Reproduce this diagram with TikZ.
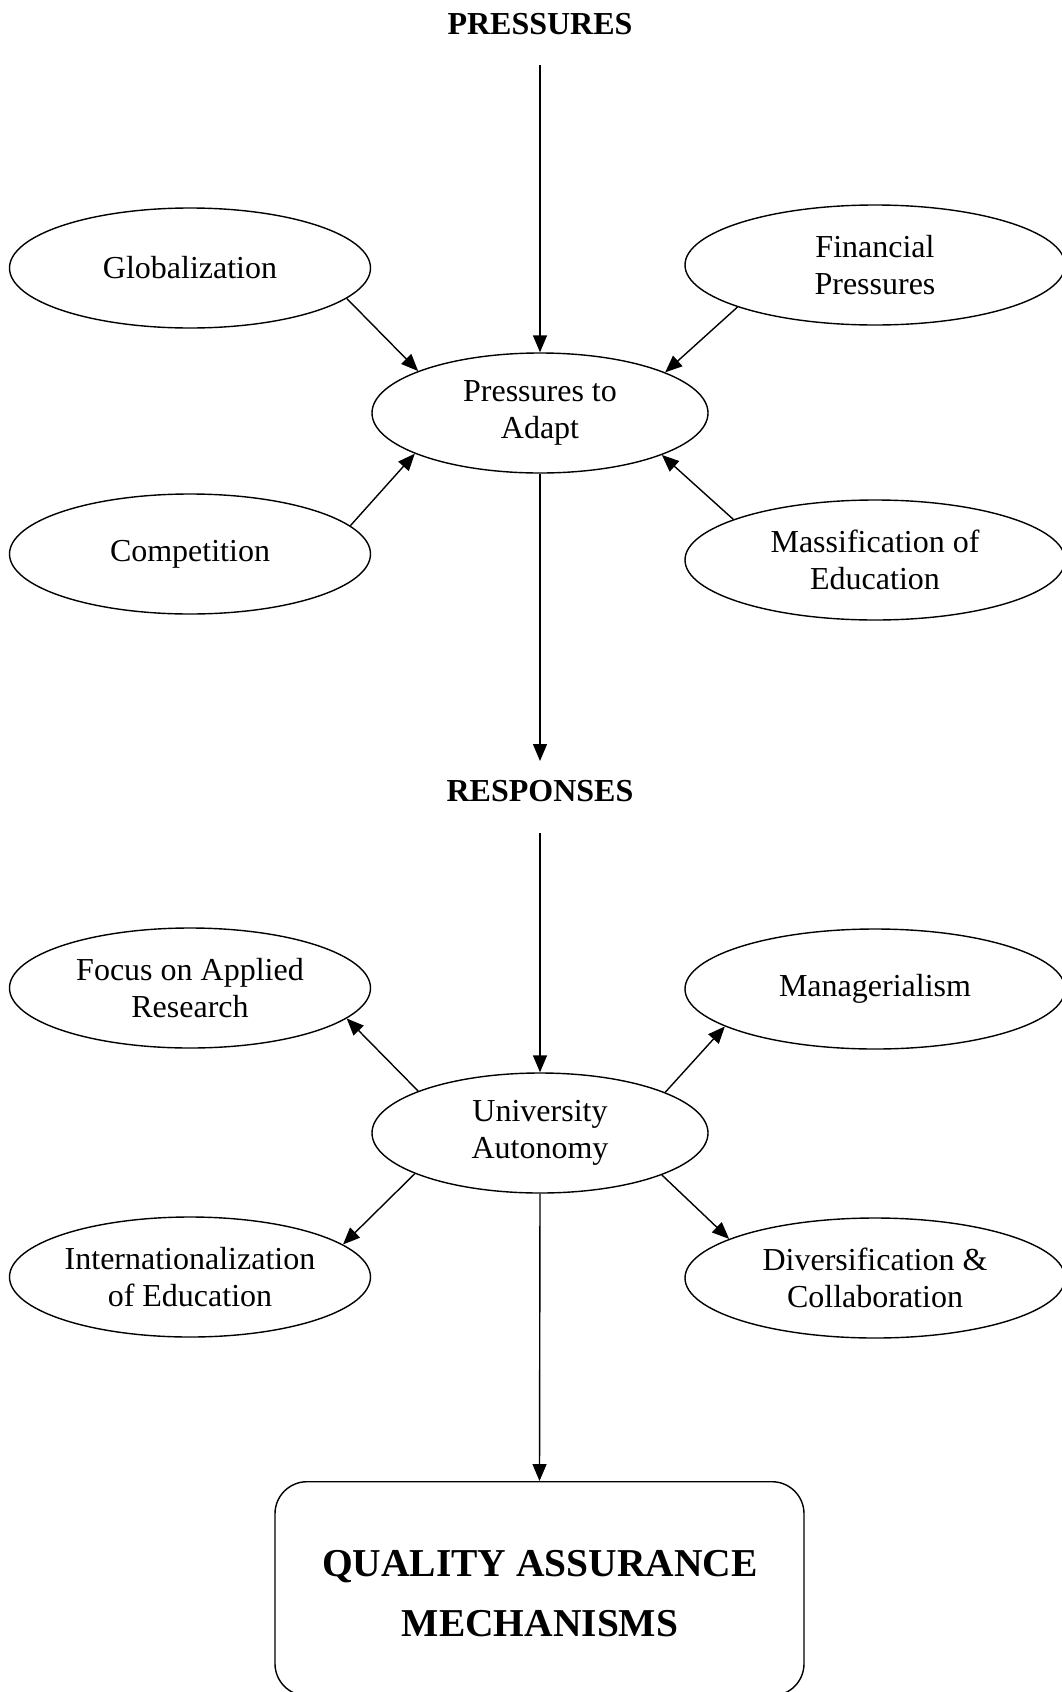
\documentclass[tikz,border=0pt]{standalone}
\usepackage{fontspec}
\setmainfont{Liberation Serif}
\usetikzlibrary{shapes.geometric,arrows.meta}
\begin{document}
\begin{tikzpicture}[x=1pt,y=-1pt,
  oval/.style={draw, ellipse, line width=1.4pt, inner sep=0pt, minimum height=120pt, align=center, font=\fontsize{32}{36.8}\selectfont},
  lft/.style={oval, minimum width=361pt},
  rgt/.style={oval, minimum width=380pt},
  mid/.style={oval, minimum width=336pt},
  heading/.style={font=\fontsize{32}{36.8}\selectfont\bfseries, inner sep=0pt},
  qabox/.style={draw, line width=1.4pt, rounded corners=32pt, minimum width=529pt, minimum height=214pt, inner sep=0pt},
  qatext/.style={align=center, font=\fontsize{39.5}{60}\selectfont\bfseries, inner sep=0pt},
  arr/.style={line width=1.4pt, -{Triangle[length=17pt,width=14pt]}}]
\useasboundingbox (0,0) rectangle (1062,1692);

% top half
\node[heading] (head1) at (540,24) {PRESSURES};
\coordinate (p0) at (540,65);
\node[mid] (pta) at (540,413) {Pressures to\\Adapt};
\node[lft] (glob) at (190,268) {Globalization};
\node[rgt] (fin) at (875,265) {Financial\\Pressures};
\node[lft] (comp) at (190,554) {Competition};
\node[rgt] (mass) at (875,560) {Massification of\\Education};
\coordinate (r1) at (540,761);

\draw[arr] (p0) -- (pta.north);
\draw[arr] (glob.-11.5) -- (pta.161.4);
\draw[arr] (fin.-163.8) -- (pta.18.2);
\draw[arr] (comp.10.6) -- (pta.-162.4);
\draw[arr] (mass.164.9) -- (pta.-19);
\draw[arr] (pta.south) -- (r1);

% bottom half
\node[heading] (head2) at (540,791) {RESPONSES};
\coordinate (r0) at (540,833);
\node[mid] (ua) at (540,1133) {University\\Autonomy};
\node[lft] (focus) at (190,988) {Focus on Applied\\Research};
\node[rgt] (mgr) at (875,989) {Managerialism};
\node[lft] (intl) at (190,1277) {Internationalization\\of Education};
\node[rgt] (div) at (875,1278) {Diversification \&\\Collaboration};

\node[qabox, anchor=north] (qa) at (539.5,1481) {};
\node[qatext] (qat) at (540,1593.5) {QUALITY ASSURANCE\\MECHANISMS};

\draw[arr] (r0) -- (ua.north);
\draw[arr] (ua.161.8) -- (focus.-11.9);
\draw[arr] (ua.-162.1) -- (intl.12.2);
\draw[arr] (ua.18) -- (mgr.194.2);
\draw[arr] (ua.-19.7) -- (div.165.4);
\draw[arr] (ua.south) -- (qa.north);
\end{tikzpicture}
\end{document}
